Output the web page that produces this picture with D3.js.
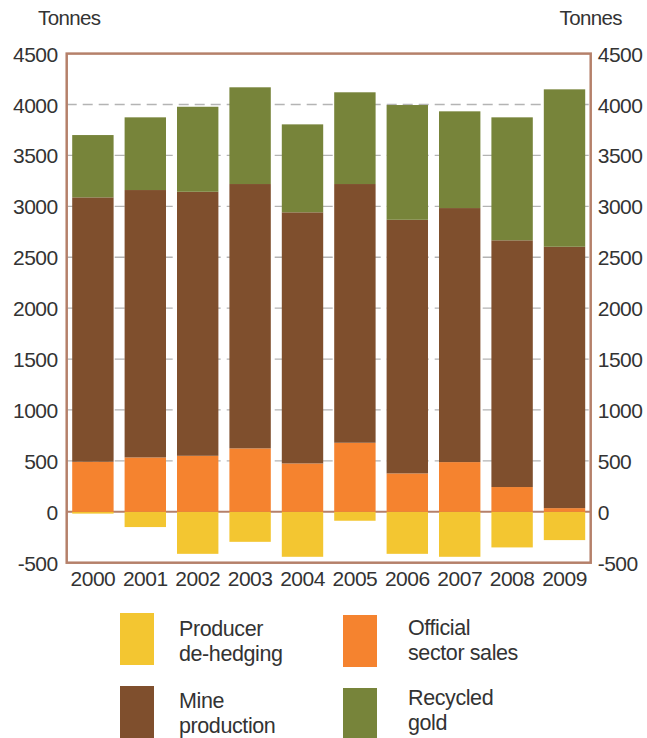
<!DOCTYPE html>
<html>
<head>
<meta charset="utf-8">
<script src="https://cdn.jsdelivr.net/npm/d3@7"></script>
<style>
  body { margin: 0; background: #fff; }
  text { font-family: "Liberation Sans", Arial, sans-serif; fill: #333; }
</style>
</head>
<body>
<div id="chart"></div>
<script>
// data (tonnes)
var years = ["2000","2001","2002","2003","2004","2005","2006","2007","2008","2009"];
var hedging  = [-18, -150, -413, -295, -442, -88, -413, -442, -350, -278];
var official = [491, 534, 550, 623, 475, 678, 377, 488, 243, 36];
var mine     = [2597, 2626, 2593, 2596, 2466, 2541, 2491, 2495, 2423, 2567];
var recycled = [612, 714, 835, 950, 864, 901, 1127, 950, 1208, 1546];
var yTicks = [-500, 0, 500, 1000, 1500, 2000, 2500, 3000, 3500, 4000, 4500];
var legendItems = [
  { lines: ["Producer", "de-hedging"], color: "#f3c631" },
  { lines: ["Official", "sector sales"], color: "#f5832f" },
  { lines: ["Mine", "production"], color: "#7f4f2d" },
  { lines: ["Recycled", "gold"], color: "#77843a" }
];

(function() {
    var W = 647, H = 738;
    var left = 66.7, right = 590.7, top = 53.6, bottom = 562.7;
    var frameColor = "#b5806a";

    var svg = d3.select("#chart").append("svg")
        .attr("width", W)
        .attr("height", H);

    var x = d3.scaleBand()
        .domain(years)
        .range([left, right])
        .paddingInner(0.21)
        .paddingOuter(0.105);

    var y = d3.scaleLinear()
        .domain([-500, 4500])
        .range([bottom, top]);

    // dashed grid lines (behind bars)
    svg.append("g").selectAll("line")
        .data(yTicks.filter(function(d) { return d > 0 && d < 4500; }))
        .enter().append("line")
        .attr("x1", left).attr("x2", right)
        .attr("y1", function(d) { return y(d); })
        .attr("y2", function(d) { return y(d); })
        .attr("stroke", "#b4b4b4")
        .attr("stroke-width", 1.3)
        .attr("stroke-dasharray", "10,6");

    // zero line
    svg.append("line")
        .attr("x1", left).attr("x2", right)
        .attr("y1", y(0)).attr("y2", y(0))
        .attr("stroke", frameColor)
        .attr("stroke-width", 2);

    // build stacked segments
    var segs = [];
    years.forEach(function(yr, i) {
        segs.push({ year: yr, y0: hedging[i], y1: 0, c: legendItems[0].color });
        var a = official[i];
        segs.push({ year: yr, y0: 0, y1: a, c: legendItems[1].color });
        var b = a + mine[i];
        segs.push({ year: yr, y0: a, y1: b, c: legendItems[2].color });
        segs.push({ year: yr, y0: b, y1: b + recycled[i], c: legendItems[3].color });
    });

    svg.append("g").selectAll("rect")
        .data(segs)
        .enter().append("rect")
        .attr("x", function(d) { return x(d.year); })
        .attr("width", x.bandwidth())
        .attr("y", function(d) { return y(Math.max(d.y0, d.y1)); })
        .attr("height", function(d) { return Math.abs(y(d.y0) - y(d.y1)); })
        .attr("fill", function(d) { return d.c; });

    // frame
    svg.append("rect")
        .attr("x", left).attr("y", top)
        .attr("width", right - left).attr("height", bottom - top)
        .attr("fill", "none")
        .attr("stroke", frameColor)
        .attr("stroke-width", 2.5);

    // axes (labels only, no domain/ticks)
    var fmt = function(d) { return String(d); };
    var leftAxis = svg.append("g")
        .attr("transform", "translate(" + (left - 9) + ",0)")
        .call(d3.axisLeft(y).tickValues(yTicks).tickSize(0).tickFormat(fmt));
    var rightAxis = svg.append("g")
        .attr("transform", "translate(" + (right + 7) + ",0)")
        .call(d3.axisRight(y).tickValues(yTicks).tickSize(0).tickFormat(fmt));
    var xAxis = svg.append("g")
        .attr("transform", "translate(0," + (bottom + 5) + ")")
        .call(d3.axisBottom(x).tickSize(0));

    [leftAxis, rightAxis, xAxis].forEach(function(g) {
        g.select(".domain").remove();
        g.selectAll("text")
            .style("font-family", "'Liberation Sans', Arial, sans-serif")
            .style("font-size", "21px")
            .style("letter-spacing", "-0.5px")
            .attr("fill", "#333");
    });
    leftAxis.selectAll("text").attr("x", 0).attr("dy", "0.36em");
    rightAxis.selectAll("text").attr("x", 0).attr("dy", "0.36em");
    xAxis.selectAll("text").attr("dy", "0.72em");

    // unit labels
    svg.append("text").attr("x", 38).attr("y", 25)
        .style("font-size", "20.5px").style("letter-spacing", "-0.6px")
        .text("Tonnes");
    svg.append("text").attr("x", 622).attr("y", 25)
        .attr("text-anchor", "end")
        .style("font-size", "20.5px").style("letter-spacing", "-0.6px")
        .text("Tonnes");

    // legend
    var lgPos = [[120, 613, 59, 23], [343, 615, 65, 20], [120, 686, 59, 22], [343, 688, 65, 17]];
    var lg = svg.append("g").selectAll("g")
        .data(legendItems)
        .enter().append("g")
        .attr("transform", function(d, i) { return "translate(" + lgPos[i][0] + "," + lgPos[i][1] + ")"; });

    lg.append("rect")
        .attr("width", 34).attr("height", 52)
        .attr("fill", function(d) { return d.color; });

    lg.append("text")
        .attr("x", function(d, i) { return lgPos[i][2]; })
        .attr("y", function(d, i) { return lgPos[i][3]; })
        .style("font-size", "21.5px").style("letter-spacing", "-0.4px")
        .each(function(d, i) {
            var t = d3.select(this);
            d.lines.forEach(function(s, k) {
                t.append("tspan")
                    .attr("x", lgPos[i][2])
                    .attr("dy", k === 0 ? 0 : 25)
                    .text(s);
            });
        });
})();
</script>
</body>
</html>
